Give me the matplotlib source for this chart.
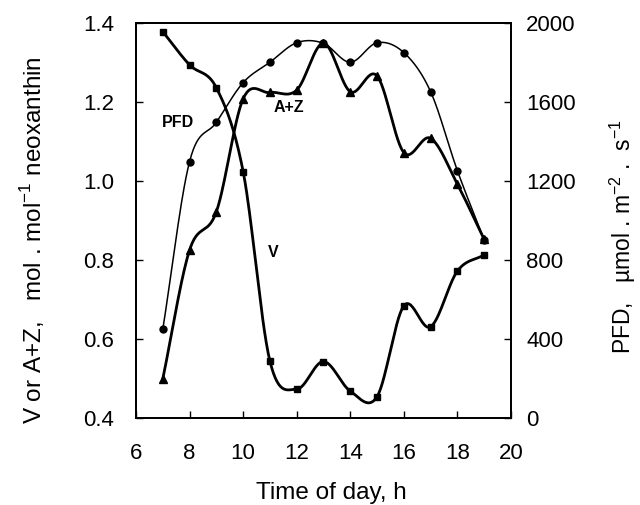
import numpy as np
import matplotlib
matplotlib.use("Agg")
import matplotlib.pyplot as plt

plt.rcParams['font.family'] = ['Liberation Sans', 'DejaVu Sans']
plt.rcParams['mathtext.fontset'] = 'custom'
plt.rcParams['mathtext.rm'] = 'Liberation Sans'

hours = [7, 8, 9, 10, 11, 12, 13, 14, 15, 16, 17, 18, 19]
v_vals = [1.378, 1.294, 1.236, 1.024, 0.544, 0.473, 0.543, 0.468, 0.454, 0.684, 0.631, 0.772, 0.813]
az_vals = [0.499, 0.825, 0.922, 1.208, 1.224, 1.230, 1.349, 1.226, 1.266, 1.072, 1.108, 0.992, 0.852]
pfd_vals = [449, 1298, 1497, 1698, 1801, 1900, 1897, 1801, 1900, 1850, 1652, 1252, 901]

x_ticks = [6, 8, 10, 12, 14, 16, 18, 20]
left_ticks = [0.4, 0.6, 0.8, 1.0, 1.2, 1.4]
right_ticks = [0, 400, 800, 1200, 1600, 2000]


def smooth(x, y, n=30):
    # Catmull-Rom spline through the given points (for drawing only)
    x = np.asarray(x, float)
    y = np.asarray(y, float)
    px = np.concatenate([[2 * x[0] - x[1]], x, [2 * x[-1] - x[-2]]])
    py = np.concatenate([[2 * y[0] - y[1]], y, [2 * y[-1] - y[-2]]])
    xs, ys = [], []
    t = np.linspace(0, 1, n, endpoint=False)
    for i in range(1, len(px) - 2):
        p0, p1, p2, p3 = py[i - 1], py[i], py[i + 1], py[i + 2]
        q0, q1, q2, q3 = px[i - 1], px[i], px[i + 1], px[i + 2]
        t2, t3 = t * t, t * t * t
        ys.append(0.5 * (2 * p1 + (-p0 + p2) * t + (2 * p0 - 5 * p1 + 4 * p2 - p3) * t2 + (-p0 + 3 * p1 - 3 * p2 + p3) * t3))
        xs.append(0.5 * (2 * q1 + (-q0 + q2) * t + (2 * q0 - 5 * q1 + 4 * q2 - q3) * t2 + (-q0 + 3 * q1 - 3 * q2 + q3) * t3))
    xs.append([x[-1]])
    ys.append([y[-1]])
    return np.concatenate(xs), np.concatenate(ys)


fig = plt.figure(figsize=(6.4, 5.05), dpi=100)
ax = fig.add_axes([0.2125, 0.1723, 0.5859, 0.7822])
ax2 = ax.twinx()

sx, sy = smooth(hours, v_vals)
ax.plot(sx, sy, color='black', lw=2.0, zorder=3)
ax.plot(hours, v_vals, 's', color='black', ms=5, zorder=4)

sx, sy = smooth(hours, az_vals)
ax.plot(sx, sy, color='black', lw=2.0, zorder=3)
ax.plot(hours, az_vals, '^', color='black', ms=5.5, zorder=4)

sx, sy = smooth(hours, pfd_vals)
ax2.plot(sx, sy, color='black', lw=1.1, zorder=3)
ax2.plot(hours, pfd_vals, 'o', color='black', ms=5, zorder=4)

ax.set_xlim(6, 20)
ax.set_ylim(0.4, 1.4)
ax2.set_ylim(0, 2000)
ax.set_xticks(x_ticks)
ax.set_yticks(left_ticks)
ax.set_yticklabels([f"{v:.1f}" for v in left_ticks])
ax2.set_yticks(right_ticks)

ax.tick_params(axis='x', direction='in', length=5, width=1, labelsize=16, pad=18)
ax.tick_params(axis='y', direction='in', length=5, width=1, labelsize=16, pad=16)
ax2.tick_params(axis='y', direction='in', length=5, width=1, labelsize=16, pad=11)
for a in (ax, ax2):
    for s in a.spines.values():
        s.set_linewidth(1.3)

ax.set_xlabel('Time of day, h', fontsize=17.5, labelpad=13)
ax.set_ylabel(r'V or A+Z,   mol . mol$^{-1}$ neoxanthin', fontsize=17.5, labelpad=26)
ax2.set_ylabel(r'PFD,   µmol . m$^{-2}$ .  s$^{-1}$', fontsize=16.5, labelpad=23)
ax.xaxis.label.set_x(0.52)
ax.yaxis.label.set_y(0.45)
ax2.yaxis.label.set_y(0.46)

ax.text(7.57, 1.149, 'PFD', fontsize=11.5, fontweight='bold', ha='center', va='center')
ax.text(11.71, 1.185, 'A+Z', fontsize=11.5, fontweight='bold', ha='center', va='center')
ax.text(11.11, 0.82, 'V', fontsize=11.5, fontweight='bold', ha='center', va='center')

fig.savefig('out.png', dpi=100)
